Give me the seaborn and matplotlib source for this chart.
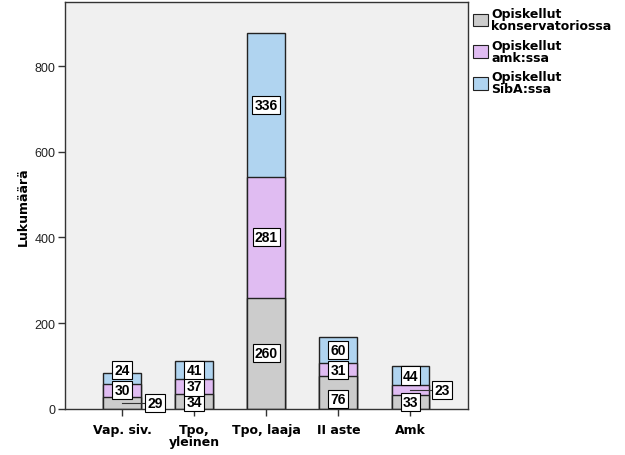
"""Stacked bar chart of student counts per education level."""

import matplotlib
matplotlib.use("Agg")
import matplotlib.pyplot as plt
from matplotlib.patches import Patch
import numpy as np
import seaborn as sns


categories = ["Vap. siv.", "Tpo,\nyleinen", "Tpo, laaja", "II aste", "Amk"]
konservatorio = [29, 34, 260, 76, 33]
amk = [30, 37, 281, 31, 23]
siba = [24, 41, 336, 60, 44]
series_names = ["Opiskellut\nkonservatoriossa", "Opiskellut\namk:ssa",
                "Opiskellut\nSibA:ssa"]
yticks = [0, 200, 400, 600, 800]

GREY = "#CCCCCC"
PURPLE = "#E0BCF2"
BLUE = "#B0D4F0"
EDGE = "#222222"

# label position tweaks (dx in categories, y in data units)
label_pos = {
  (0, 0): (0.46, 14), (0, 2): (0.0, 90),
  (3, 0): (0.0, 24),
  (4, 1): (0.44, 44),
}

def main():
  fig = plt.figure(figsize=(6.25, 4.56), dpi=100)
  ax = fig.add_axes([0.104, 0.101, 0.645, 0.892])
  ax.set_facecolor("#F0F0F0")
  bottom = np.array(konservatorio)
  middle = bottom + np.array(amk)
  top = middle + np.array(siba)
  # draw totals first, then overlay lower layers
  for vals, color in [(top, BLUE), (middle, PURPLE), (bottom, GREY)]:
    sns.barplot(x=categories, y=vals, order=categories, color=color,
        width=0.525, edgecolor=EDGE, linewidth=1.0, saturation=1,
        ax=ax, zorder=2)
  ax.set_xlim(-0.79, 4.8)
  ax.set_ylim(0, 949)
  ax.set_yticks(yticks)
  ax.set_yticklabels([str(t) for t in yticks], fontsize=9,
      family="Liberation Sans", color="#222222")
  ax.tick_params(axis="y", length=5, width=1, color="#333333", pad=2)
  ax.tick_params(axis="x", length=5, width=1, color="#333333", pad=5)
  for lab in ax.get_xticklabels():
    lab.set_fontweight("bold")
    lab.set_fontsize(9)
    lab.set_linespacing(0.95)
  ax.set_ylabel("Lukumäärä", fontsize=9, fontweight="bold", labelpad=3)
  ax.set_xlabel("")
  for sp in ax.spines.values():
    sp.set_color("#333333")
    sp.set_linewidth(1.0)
  # value labels
  box = dict(boxstyle="square,pad=0.15", fc="white", ec="black", lw=0.8)
  layers = [(konservatorio, np.zeros(5)), (amk, bottom), (siba, middle)]
  for li, (vals, base) in enumerate(layers):
    for ci, v in enumerate(vals):
      yc = base[ci] + v / 2.0
      dx, yl = label_pos.get((ci, li), (0.0, yc))
      xl = ci + dx
      if dx != 0:
        ax.plot([ci, xl - 0.12], [yl, yl], color="#333333", lw=0.8,
            zorder=3)
      ax.text(xl, yl, str(v), ha="center", va="center", fontsize=10,
          fontweight="bold", family=["Liberation Sans Narrow",
          "Liberation Sans"], bbox=box, zorder=4)
  handles = [Patch(fc=c, ec=EDGE, lw=0.8) for c in (GREY, PURPLE, BLUE)]
  leg = ax.legend(handles, series_names, loc="upper left",
      bbox_to_anchor=(1.005, 0.995), frameon=False,
      prop=dict(weight="bold", size=9), handlelength=1.2,
      handleheight=1.2, handletextpad=0.3, labelspacing=0.55,
      borderaxespad=0.0, borderpad=0.2)
  for t in leg.get_texts():
    t.set_linespacing(0.9)
  fig.savefig("out.png", dpi=100)

main()
